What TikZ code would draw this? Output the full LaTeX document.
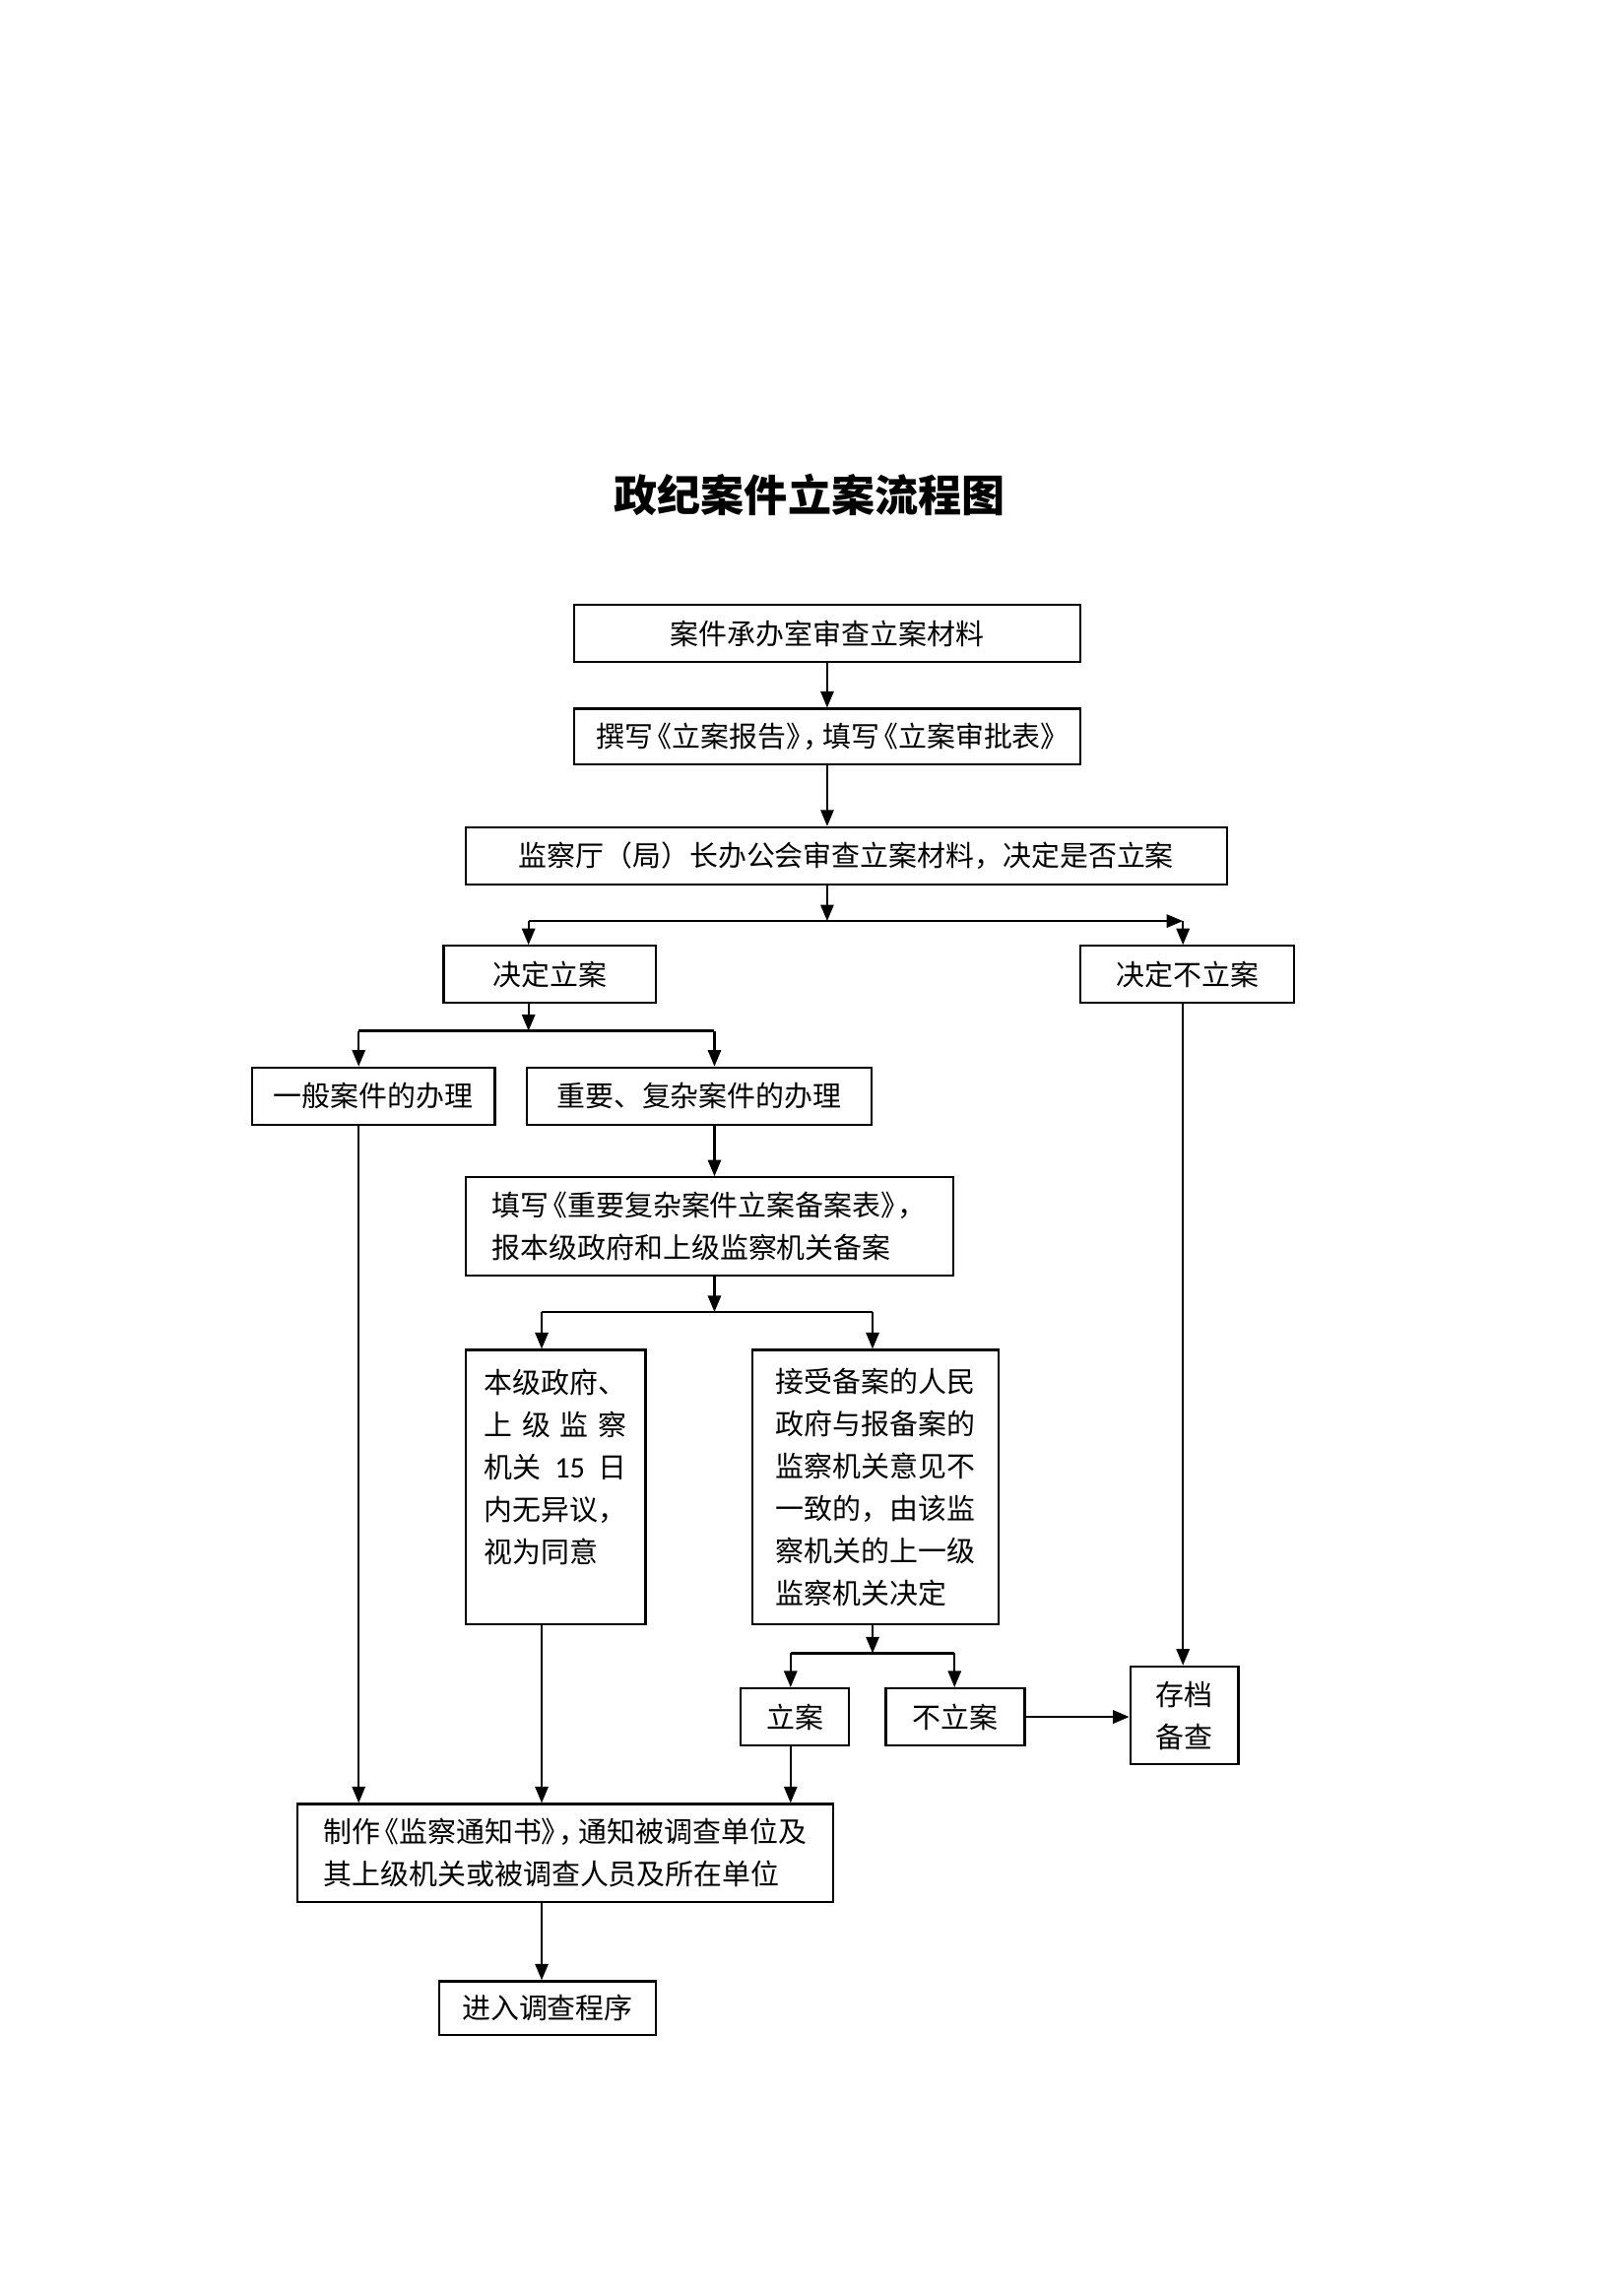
\documentclass[tikz,border=0pt]{standalone}
\usepackage{fontspec}
\setmainfont{Noto Sans CJK SC}
\newfontfamily\numfont{Carlito}
\usetikzlibrary{positioning,calc,arrows.meta}

% tight book-title brackets
\newcommand{\shuming}[1]{\kern-.35em《#1》\kern-.4em}

\tikzset{
  box/.style={draw, line width=0.8pt, inner xsep=8pt, inner ysep=0pt,
    font=\fontsize{10.5pt}{15.6pt}\selectfont},
  arr/.style={line width=0.8pt, -{Triangle[length=6pt,width=4.8pt]}},
  link/.style={line width=0.8pt},
}

\begin{document}
\begin{tikzpicture}[x=0.1897mm, y=-0.1897mm]
    \useasboundingbox (0,0) rectangle (1107,1568);

    % Title
    \node[font=\fontsize{16pt}{20pt}\selectfont\bfseries] (title) at (553,338) {政纪案件立案流程图};

    % Review and decision
    \node[box, minimum width=65.6mm, minimum height=7.4mm] (shencha) at (565,432.5) {案件承办室审查立案材料};
    \node[box, inner xsep=4pt, minimum width=65.6mm, minimum height=7.2mm] (zhuanxie) at (565,503)
        {撰写\shuming{立案报告}，\kern-.3em 填写\shuming{立案审批表}};
    \node[box, minimum width=98.6mm, minimum height=7.4mm] (huiyi) at (578,584.5) {监察厅（局）长办公会审查立案材料，决定是否立案};

    \node[box, minimum width=27.5mm, minimum height=7.4mm] (lian) at (375.5,665.5) {决定立案};
    \node[box, minimum width=27.7mm, minimum height=7.4mm] (bulian) at (811,665.5) {决定不立案};

    % Two kinds of cases
    \node[box, minimum width=31.5mm, minimum height=7.4mm] (yiban) at (255,748.5) {一般案件的办理};
    \node[box, minimum width=44.6mm, minimum height=7.4mm] (zhongyao) at (477.5,748.5) {重要、复杂案件的办理};

    \node[box, align=left, inner xsep=6pt, minimum width=63.2mm, minimum height=12.7mm] (tianxie) at (484.5,837.5)
        {填写\shuming{重要复杂案件立案备案表}，\\报本级政府和上级监察机关备案\hspace{1.2em}};

    \node[box, align=left, inner xsep=6pt, minimum width=23.3mm, minimum height=35.5mm] (benji) at (379.5,1015.5)
        {本级政府、\\\makebox[5em]{上\hfill 级\hfill 监\hfill 察}\\\makebox[5em]{机关\hfill{\numfont\fontsize{11pt}{15.6pt}\selectfont 15}\hfill 日}\\内无异议，\\视为同意\\\mbox{}};
    \node[box, align=left, minimum width=31.9mm, minimum height=35.5mm] (jieshou) at (598,1015.5)
        {接受备案的人民\\政府与报备案的\\监察机关意见不\\一致的，由该监\\察机关的上一级\\监察机关决定};

    \node[box, inner xsep=2pt, minimum width=14mm, minimum height=7.4mm] (lian2) at (543,1172.5) {立案};
    \node[box, inner xsep=2pt, minimum width=18mm, minimum height=7.4mm] (bulian2) at (652.5,1172.5) {不立案};
    \node[box, inner xsep=2pt, align=center, minimum width=14mm, minimum height=12.7mm] (cundang) at (809,1171.5) {存档\\备查};

    % Notice and investigation
    \node[box, align=left, inner xsep=5pt, minimum width=69.4mm, minimum height=12.7mm] (zhizuo) at (386,1265.5)
        {制作\shuming{监察通知书}，\kern-.3em 通知被调查单位及\\其上级机关或被调查人员及所在单位};
    \node[box, minimum width=28.1mm, minimum height=7mm] (jinru) at (374,1371.5) {进入调查程序};

    % Branch points
    \coordinate (j1) at (565,629);
    \coordinate (j1l) at (361,629);
    \coordinate (j1r) at (808,629);
    \coordinate (j2) at (361,704);
    \coordinate (j2l) at (245,704);
    \coordinate (j2r) at (488,704);
    \coordinate (j3) at (488,896);
    \coordinate (j3l) at (370,896);
    \coordinate (j3r) at (596,896);
    \coordinate (j4) at (596,1129);
    \coordinate (j4l) at (540,1129);
    \coordinate (j4r) at (652,1129);

    % Connectors
    \draw[arr] (shencha.south) -- (zhuanxie.north);
    \draw[arr] (zhuanxie.south) -- (zhuanxie.south |- huiyi.north);
    \draw[arr] (j1 |- huiyi.south) -- (j1);
    \draw[arr] (j1l) -- (j1r);
    \draw[arr] (j1l) -- (j1l |- lian.north);
    \draw[arr] (j1r) -- (j1r |- bulian.north);

    \draw[arr] (j2 |- lian.south) -- (j2);
    \draw[link] (j2l) -- (j2r);
    \draw[arr] (j2l) -- (j2l |- yiban.north);
    \draw[arr] (j2r) -- (j2r |- zhongyao.north);
    \draw[arr] (j2r |- zhongyao.south) -- (j2r |- tianxie.north);

    \draw[arr] (j3 |- tianxie.south) -- (j3);
    \draw[link] (j3l) -- (j3r);
    \draw[arr] (j3l) -- (j3l |- benji.north);
    \draw[arr] (j3r) -- (j3r |- jieshou.north);

    \draw[arr] (j4 |- jieshou.south) -- (j4);
    \draw[link] (j4l) -- (j4r);
    \draw[arr] (j4l) -- (j4l |- lian2.north);
    \draw[arr] (j4r) -- (j4r |- bulian2.north);

    \draw[arr, line width=1pt] (bulian2.east) -- (bulian2.east -| cundang.west);
    \draw[arr] (j1r |- bulian.south) -- (j1r |- cundang.north);

    \draw[arr] (j2l |- yiban.south) -- (j2l |- zhizuo.north);
    \draw[arr] (j3l |- benji.south) -- (j3l |- zhizuo.north);
    \draw[arr] (j4l |- lian2.south) -- (j4l |- zhizuo.north);
    \draw[arr] (j3l |- zhizuo.south) -- (j3l |- jinru.north);
\end{tikzpicture}
\end{document}
